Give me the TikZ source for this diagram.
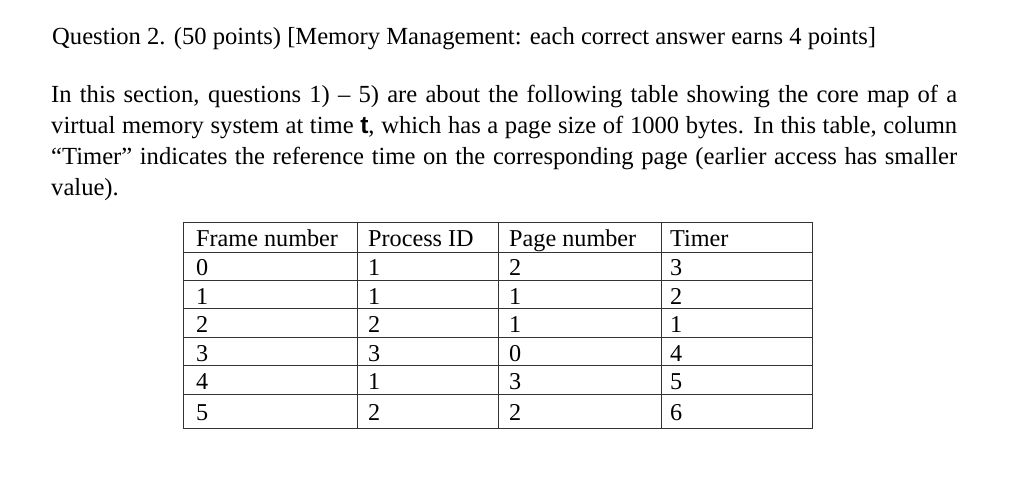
\documentclass[tikz,border=0pt]{standalone}
\usepackage{fontspec}
\setmainfont{Liberation Serif}
\newfontfamily\cellfont{Liberation Sans}
\begin{document}
\begin{tikzpicture}[x=1pt,y=-1pt,
  txt/.style={anchor=base west,inner sep=0pt,font=\fontsize{24.6}{31}\selectfont},
  cell/.style={anchor=base west,inner sep=0pt,font=\fontsize{24.2}{28}\selectfont}]
\useasboundingbox[fill=white] (0,0) rectangle (1024,481);
\node[txt] (title) at (52,45) {Question 2. (50 points) [Memory Management: each correct answer earns 4 points]};
\node[txt,anchor=north west,text width=906pt,align=justify] (para) at (51,85)
{In this section, questions 1) -- 5) are about the following table showing the core map of a\linebreak virtual memory system at time {\cellfont\bfseries t}, which has a page size of 1000 bytes. In this table, column\linebreak ``Timer'' indicates the reference time on the corresponding page (earlier access has smaller\linebreak value).};
\draw[line width=0.9pt,black!80] (183,222) rectangle (812,428);
\foreach \x in {357,498,661} \draw[line width=0.9pt,black!80] (\x,222) -- (\x,428);
\foreach \y in {252,280,308,337,365,394} \draw[line width=0.9pt,black!80] (183,\y) -- (812,\y);
\foreach \a/\b/\c/\d [count=\i from 0] in {Frame number/Process ID/Page number/Timer,0/1/2/3,1/1/1/2,2/2/1/1,3/3/0/4,4/1/3/5,5/2/2/6}{
  \pgfmathsetmacro{\yb}{\i==0 ? 246 : (\i==6 ? 420 : 247+28.5*\i)}
  \node[cell] (a\i) at (196,\yb) {\a};
  \node[cell] (b\i) at (368,\yb) {\b};
  \node[cell] (c\i) at (509,\yb) {\c};
  \node[cell] (d\i) at (670,\yb) {\d};
}
\end{tikzpicture}
\end{document}
